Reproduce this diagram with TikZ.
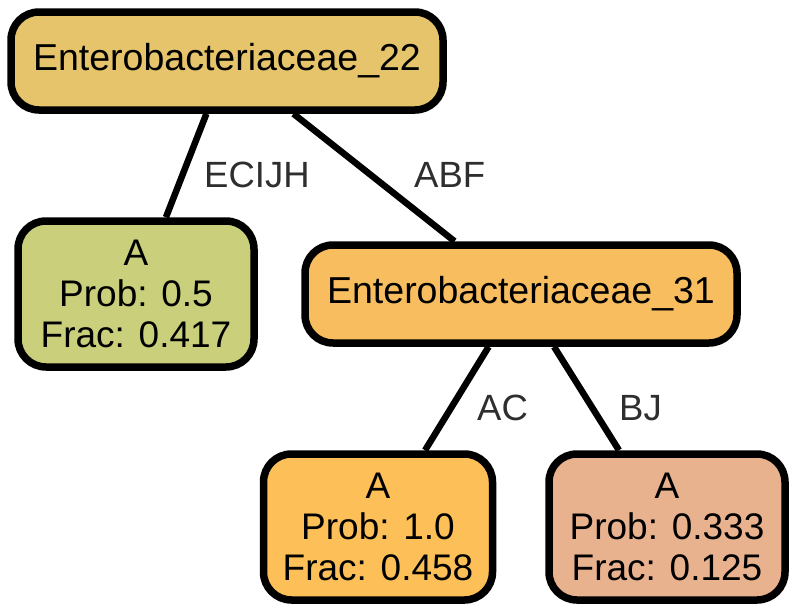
\documentclass[tikz,border=0pt]{standalone}
\usepackage{fontspec}
\setmainfont{Liberation Sans}
\usetikzlibrary{positioning}
\definecolor{corraiz}{HTML}{E5C46B}
\definecolor{corramo}{HTML}{F7BD5F}
\definecolor{corfolhaa}{HTML}{C9CF7A}
\definecolor{corfolhab}{HTML}{FDBF57}
\definecolor{corfolhac}{HTML}{E8B28F}
\definecolor{cinza}{HTML}{2E2E2E}

\begin{document}
\begin{tikzpicture}[x=1pt,y=-1pt,
  ramo/.style={draw,line width=7.5pt,rounded corners=28pt,minimum height=98pt,font=\fontsize{37.5}{41}\selectfont},
  folha/.style={draw,line width=7.5pt,rounded corners=28pt,minimum height=146pt,align=center,font=\fontsize{37}{41}\selectfont},
  rotulo/.style={anchor=west,inner sep=0pt,text=cinza,font=\fontsize{36.5}{40}\selectfont},
  aresta/.style={line width=6.5pt}
]
\useasboundingbox (0,0) rectangle (797,613);

\node[ramo,fill=corraiz,minimum width=432pt] (raiz) at (227,61) {Enterobacteriaceae\_22};
\node[folha,fill=corfolhaa,minimum width=236pt] (folhaa) at (136,294)
  {A\\Prob: 0.5\\Frac: 0.417};
\node[ramo,fill=corramo,minimum width=432pt] (ramo) at (521,294) {Enterobacteriaceae\_31};
\node[folha,fill=corfolhab,minimum width=229pt] (folhab) at (378,527)
  {A\\Prob: 1.0\\Frac: 0.458};
\node[folha,fill=corfolhac,minimum width=236pt] (folhac) at (667,527)
  {A\\Prob: 0.333\\Frac: 0.125};

\draw[aresta] (raiz)--(folhaa);
\draw[aresta] (raiz)--(ramo);
\draw[aresta] (ramo)--(folhab);
\draw[aresta] (ramo)--(folhac);

\node[rotulo] (recijh) at (204,175) {ECIJH};
\node[rotulo] (rabf) at (414,175) {ABF};
\node[rotulo] (rac) at (477,408) {AC};
\node[rotulo] (rbj) at (619,408) {BJ};
\end{tikzpicture}
\end{document}
